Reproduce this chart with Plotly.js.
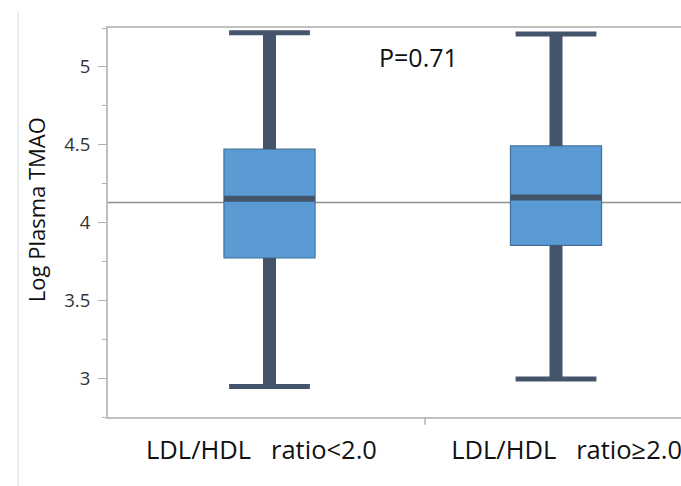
<!DOCTYPE html>
<html>
<head>
<meta charset="utf-8">
<script src="https://cdn.plot.ly/plotly-3.0.1.min.js"></script>
<style>html,body{margin:0;padding:0;background:#fff;overflow:hidden}</style>
</head>
<body>
<div id="chart" style="width:681px;height:486px"></div>
<script>
// ---- data ----
const categories = ['LDL/HDL\u00a0\u00a0\u00a0ratio&lt;2.0', 'LDL/HDL\u00a0\u00a0\u00a0ratio\u22652.0'];
const groupX = [0, 1];
const lowerWhisker = [2.946, 2.994];
const q1 = [3.772, 3.853];
const median = [4.152, 4.160];
const q3 = [4.471, 4.492];
const upperWhisker = [5.220, 5.212];
const referenceValue = 4.128;
const pValueText = 'P=0.71';
const yTickVals = [3, 3.5, 4, 4.5, 5];
const yTickText = ['3', '3.5', '4', '4.5', '5'];
const yTitle = 'Log Plasma TMAO';

// ---- styling ----
const boxHalf = 0.159;
const capHalf = 0.141;
const labelPos = [-0.028, 1.037];
const dark = '#44546A';

const traces = [];
// box bodies
traces.push({
  type: 'box', x: groupX, q1: q1, median: median, q3: q3,
  lowerfence: q1, upperfence: q3, width: 2 * boxHalf,
  fillcolor: '#5B9BD5', line: {color: '#41719C', width: 1.2},
  whiskerwidth: 0, hoverinfo: 'skip', showlegend: false
});
// whisker stems
const sx = [], sy = [];
groupX.forEach((x, i) => {
  sx.push(x, x, null, x, x, null);
  sy.push(q3[i], upperWhisker[i], null, lowerWhisker[i], q1[i], null);
});
traces.push({type: 'scatter', mode: 'lines', x: sx, y: sy,
  line: {color: dark, width: 13}, hoverinfo: 'skip', showlegend: false});
// caps
const cx = [], cy = [];
groupX.forEach((x, i) => {
  cx.push(x - capHalf, x + capHalf, null, x - capHalf, x + capHalf, null);
  cy.push(upperWhisker[i], upperWhisker[i], null, lowerWhisker[i], lowerWhisker[i], null);
});
traces.push({type: 'scatter', mode: 'lines', x: cx, y: cy,
  line: {color: dark, width: 5}, hoverinfo: 'skip', showlegend: false});
// medians
const mx = [], my = [];
groupX.forEach((x, i) => {
  mx.push(x - boxHalf, x + boxHalf, null);
  my.push(median[i], median[i], null);
});
traces.push({type: 'scatter', mode: 'lines', x: mx, y: my,
  line: {color: dark, width: 6}, hoverinfo: 'skip', showlegend: false});

const font = '"Open Sans", "Noto Sans", sans-serif';
const layout = {
  width: 681, height: 486,
  margin: {l: 108, r: 0, t: 28, b: 69, pad: 0},
  paper_bgcolor: '#fff', plot_bgcolor: '#fff',
  showlegend: false,
  font: {family: font, color: '#222'},
  xaxis: {
    range: [-0.5637, 1.4363], tickvals: labelPos, ticktext: categories,
    ticks: '', showgrid: false, zeroline: false,
    showline: true, linecolor: '#c0c0c0', linewidth: 2, mirror: true,
    tickfont: {size: 25.5, color: '#111', family: font},
    ticklabelstandoff: 9, ticklabeloverflow: 'allow'
  },
  yaxis: {
    range: [2.75, 5.25], tickvals: yTickVals, ticktext: yTickText,
    ticks: 'outside', ticklen: 8, tickwidth: 1, tickcolor: '#b0b0b0',
    minor: {dtick: 0.25, tick0: 0, ticks: 'outside', ticklen: 4, tickwidth: 1, tickcolor: '#b0b0b0', showgrid: false},
    showgrid: false, zeroline: false,
    showline: true, linecolor: '#c0c0c0', linewidth: 2, mirror: false,
    tickfont: {size: 18.5, color: '#333', family: font},
    ticklabelstandoff: 4
  },
  shapes: [
    {type: 'line', xref: 'paper', yref: 'y', x0: 0, x1: 1, y0: referenceValue, y1: referenceValue,
     line: {color: '#8f8f8f', width: 1.5}, layer: 'below'},
    {type: 'line', xref: 'paper', yref: 'paper', x0: -0.157, x1: -0.157, y0: 1.041, y1: -0.2,
     line: {color: '#d9d9d9', width: 1}, layer: 'below'},
    {type: 'line', xref: 'x', yref: 'paper', x0: 0.543, x1: 0.543, y0: 0, y1: -0.02,
     line: {color: '#b0b0b0', width: 1.5}}
  ],
  annotations: [
    {text: pValueText, xref: 'x', yref: 'y', x: 0.52, y: 5.065, showarrow: false,
     font: {size: 25, color: '#111', family: font}},
    {text: yTitle, xref: 'paper', yref: 'paper', x: -0.155, y: 0.532, textangle: -90,
     showarrow: false, font: {size: 22, color: '#111', family: font}}
  ]
};
Plotly.newPlot('chart', traces, layout, {displayModeBar: false, staticPlot: true});
</script>
</body>
</html>
